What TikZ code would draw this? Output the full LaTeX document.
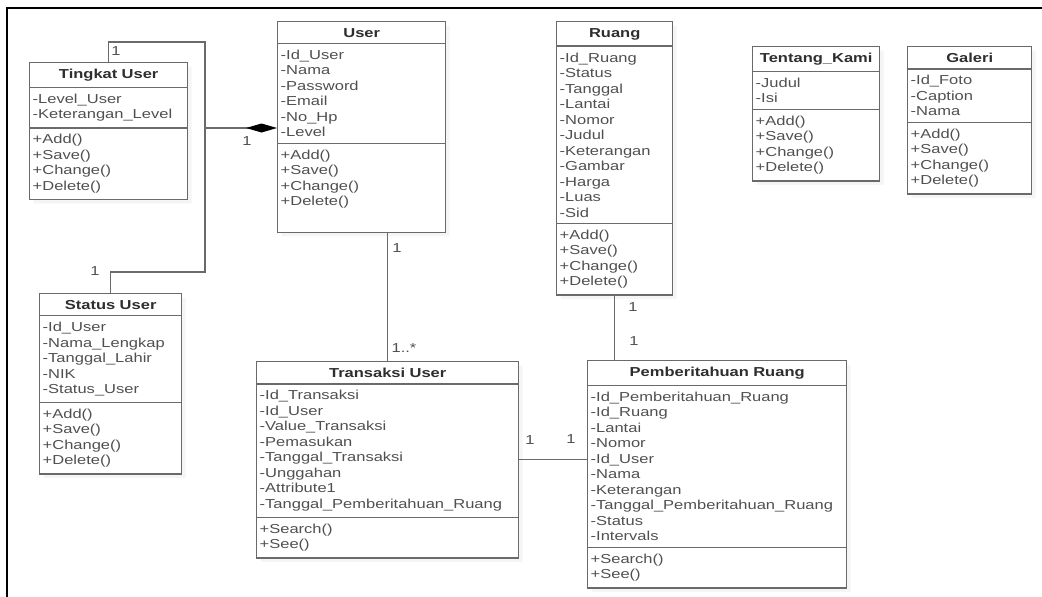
\documentclass[tikz,border=0pt]{standalone}
\usepackage{fontspec}
\setmainfont{Liberation Sans}[FakeStretch=1.27]
\usetikzlibrary{shapes.multipart,arrows.meta,shadows}
\definecolor{umlline}{HTML}{6A6A6A}
\definecolor{umltext}{HTML}{505050}
\definecolor{umltitle}{HTML}{2E2E2E}

\begin{document}
\begin{tikzpicture}
    [x=1pt, y=-1pt,
    font=\fontsize{13}{15.5}\selectfont,
    class/.style = {rectangle split, rectangle split parts=3,
                    draw=umlline, line width=1.4pt, fill=white,
                    text=umltext, align=left, anchor=north west,
                    inner xsep=3pt, inner ysep=5.7pt,
                    drop shadow={shadow xshift=4pt, shadow yshift=-4pt, opacity=0.08}},
    link/.style = {draw=umlline, line width=1.4pt},
    mult/.style = {text=umltext, inner sep=1pt}]
    \useasboundingbox (0,0) rectangle (1042,597);
    \draw [line width=2pt] (1042,8) -- (7,8) -- (7,597);

    % classes
    \node[class, text width=152pt] (tingkat) at (29,62)
        {\makebox[\hsize]{\textbf{\color{umltitle}Tingkat User}}
        \nodepart{two} -Level\_User\\-Keterangan\_Level
        \nodepart{three} +Add()\\+Save()\\+Change()\\+Delete()};
    \node[class, text width=162pt] (user) at (277,21)
        {\makebox[\hsize]{\textbf{\color{umltitle}User}}
        \nodepart{two} -Id\_User\\-Nama\\-Password\\-Email\\-No\_Hp\\-Level
        \nodepart{three} +Add()\\+Save()\\+Change()\\+Delete()\\\strut};
    \node[class, text width=110pt] (ruang) at (556,21)
        {\makebox[\hsize]{\textbf{\color{umltitle}Ruang}}
        \nodepart{two} -Id\_Ruang\\-Status\\-Tanggal\\-Lantai\\-Nomor\\-Judul\\-Keterangan\\-Gambar\\-Harga\\-Luas\\-Sid
        \nodepart{three} +Add()\\+Save()\\+Change()\\+Delete()};
    \node[class, text width=121pt] (tentang) at (752,46)
        {\makebox[\hsize]{\textbf{\color{umltitle}Tentang\_Kami}}
        \nodepart{two} -Judul\\-Isi
        \nodepart{three} +Add()\\+Save()\\+Change()\\+Delete()};
    \node[class, text width=118pt] (galeri) at (907,46)
        {\makebox[\hsize]{\textbf{\color{umltitle}Galeri}}
        \nodepart{two} -Id\_Foto\\-Caption\\-Nama
        \nodepart{three} +Add()\\+Save()\\+Change()\\+Delete()};
    \node[class, text width=136pt] (status) at (39,293)
        {\makebox[\hsize]{\textbf{\color{umltitle}Status User}}
        \nodepart{two} -Id\_User\\-Nama\_Lengkap\\-Tanggal\_Lahir\\-NIK\\-Status\_User
        \nodepart{three} +Add()\\+Save()\\+Change()\\+Delete()};
    \node[class, text width=256pt] (transaksi) at (256,361)
        {\makebox[\hsize]{\textbf{\color{umltitle}Transaksi User}}
        \nodepart{two} -Id\_Transaksi\\-Id\_User\\-Value\_Transaksi\\-Pemasukan\\-Tanggal\_Transaksi\\-Unggahan\\-Attribute1\\-Tanggal\_Pemberitahuan\_Ruang
        \nodepart{three} +Search()\\+See()};
    \node[class, text width=253pt] (pember) at (587,360)
        {\makebox[\hsize]{\textbf{\color{umltitle}Pemberitahuan Ruang}}
        \nodepart{two} -Id\_Pemberitahuan\_Ruang\\-Id\_Ruang\\-Lantai\\-Nomor\\-Id\_User\\-Nama\\-Keterangan\\-Tanggal\_Pemberitahuan\_Ruang\\-Status\\-Intervals
        \nodepart{three} +Search()\\+See()};

    % connectors
    \coordinate (jtop) at (205,42);
    \coordinate (jmid) at (205,128);
    \coordinate (jbot) at (205,272);
    \draw[link] (tingkat.north) |- (jtop) -- (jbot) -| (status.north);
    \draw[link, -{Diamond[length=31pt,width=9pt,color=black]}] (jmid) -- (jmid -| user.west);
    \draw[link] (transaksi.north) -- (transaksi.north |- user.south);
    \draw[link] (ruang.south) -- (ruang.south |- pember.north);
    \draw[link] (transaksi.east) -- (transaksi.east -| pember.west);

    % multiplicities
    \node[mult] (mtingkat) at (116,51) {1};
    \node[mult] (muser) at (247,141) {1};
    \node[mult] (mstatus) at (95,271) {1};
    \node[mult] (muserb) at (397,248) {1};
    \node[mult] (mtrans) at (404,348) {1..*};
    \node[mult] (mruang) at (633,307) {1};
    \node[mult] (mpemtop) at (634,341) {1};
    \node[mult] (mtransr) at (530,440) {1};
    \node[mult] (mpemleft) at (571,439) {1};
\end{tikzpicture}
\end{document}
